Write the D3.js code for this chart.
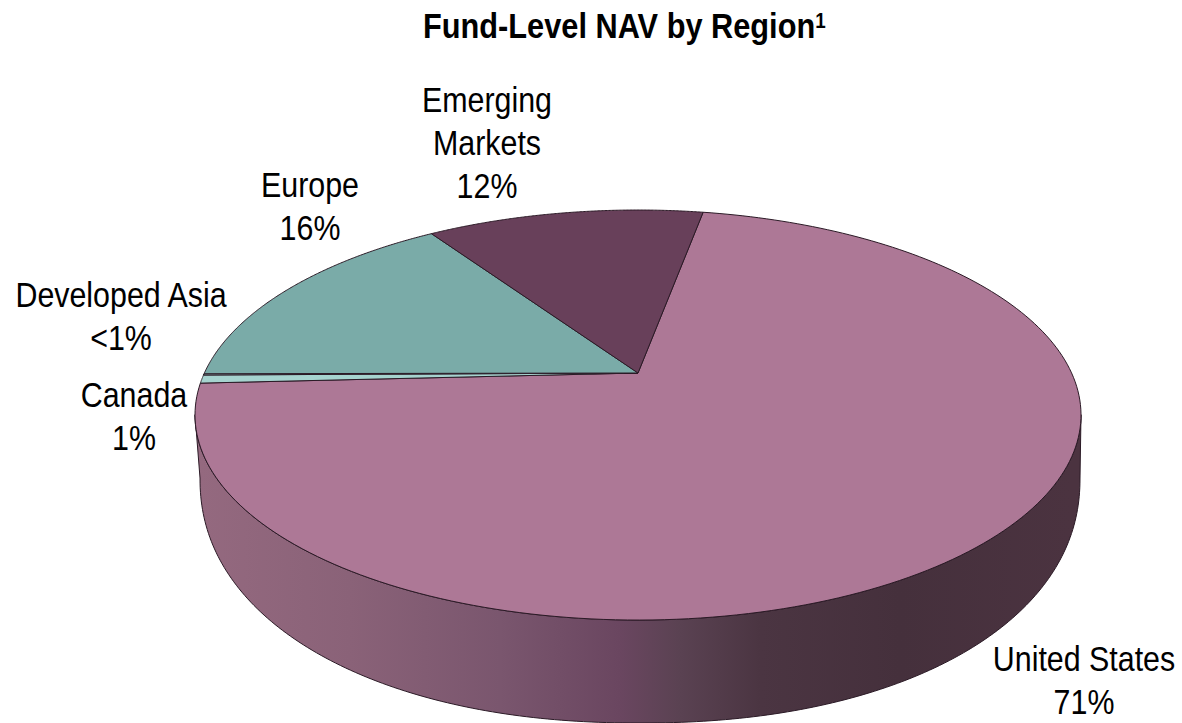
<!DOCTYPE html>
<html>
<head>
<meta charset="utf-8">
<script src="https://cdn.jsdelivr.net/npm/d3@7"></script>
<style>
  html, body { margin: 0; padding: 0; background: #fff; }
  text { font-family: "Liberation Sans", Arial, sans-serif; fill: #000; }
</style>
</head>
<body>
<div id="myDiv"></div>
<script>
//--------------------------------------------------
// Data
//--------------------------------------------------
var regions = ['United States', 'Canada', 'Developed Asia', 'Europe', 'Emerging Markets'];
var shares = [71.3, 0.65, 0.1, 15.65, 12.3];
var shareLabels = ['71%', '1%', '<1%', '16%', '12%'];
var chartTitle = 'Fund-Level NAV by Region';
var titleNote = '1';

//--------------------------------------------------
// Properties
//--------------------------------------------------
var sliceColors = ['#ad7896', '#a6d3cf', '#a6d3cf', '#7aaba8', '#68405a'];
var lineColor = '#2b1a26';
var startDegrees = 10.4;
var labelFontSize = 35.5;
var labelSquash = 0.856; // the type in the source is narrower than the font
var labelLeading = 43;
var titleFontSize = 36;
var titleSquash = 0.854;

// label placement, by region: centre x and first baseline
var labelLines = {
  'United States': {x: 1084, y: 671, lines: ['United States']},
  'Canada': {x: 134, y: 407, lines: ['Canada']},
  'Developed Asia': {x: 121, y: 307, lines: ['Developed Asia']},
  'Europe': {x: 310, y: 197, lines: ['Europe']},
  'Emerging Markets': {x: 487, y: 112, lines: ['Emerging', 'Markets']}
};

var width = 1182, height = 723;

var svg = d3.select('#myDiv')
  .append('svg')
    .attr('width', width)
    .attr('height', height)
    .style('display', 'block');

// side wall shading runs left to right
var wallX = d3.scaleLinear().domain([196, 1082]).range([0, 1]);
var grad = svg.append('defs').append('linearGradient')
  .attr('id', 'wall')
  .attr('gradientUnits', 'userSpaceOnUse')
  .attr('x1', 196).attr('x2', 1082).attr('y1', 0).attr('y2', 0);
[[200, '#94697f'], [350, '#8a6278'], [500, '#7a566e'], [620, '#6a4660'],
 [680, '#5a4252'], [760, '#4b3542'], [900, '#45303c'], [1070, '#4b3340']].forEach(function(s) {
  grad.append('stop').attr('offset', wallX(s[0])).attr('stop-color', s[1]);
});

//--------------------------------------------------
// Projection of the flat pie to the tilted disc.
// Perspective moves the pie centre above the centre of the ellipse.
//--------------------------------------------------
var apex = {x: 638, y: 373};
var persp = 0.205, scaleX = 433.6, scaleY = 196.4;

function project(angle, r) {
  var px = r * Math.sin(angle), py = -r * Math.cos(angle);
  var w = 1 - persp * py;
  return [apex.x + scaleX * px / w, apex.y + scaleY * py / w];
}

// bottom rim of the wall, a little fuller than an ellipse
var base = {cx: 640, cy: 478, rx: 440, ry: 245, n: 2.15};
function baseRim(angle) {
  var s = Math.sin(angle), c = Math.cos(angle);
  return [
    base.cx + base.rx * Math.sign(s) * Math.pow(Math.abs(s), 2 / base.n),
    base.cy - base.ry * Math.sign(c) * Math.pow(Math.abs(c), 2 / base.n)
  ];
}

var line = d3.line();

function arcPoints(a0, a1, fn) {
  return d3.range(0, 201).map(function(i) {
    return fn(a0 + (a1 - a0) * i / 200);
  });
}

var tau = Math.PI * 2;
var rimAt = function(a) { return project(a, 1); };

// the wall: top rim from right tangent round the front, then back on the base
var rightA = Math.PI / 2 + 0.205, leftA = tau - Math.PI / 2 - 0.205;
var wall = arcPoints(rightA, leftA, rimAt)
  .concat(arcPoints(Math.PI * 1.5, Math.PI * 0.5, baseRim));

svg.append('path')
  .attr('d', line(wall) + 'Z')
  .attr('fill', 'url(#wall)')
  .attr('stroke', lineColor)
  .attr('stroke-width', 1);

// the slices
var pie = d3.pie()
  .sort(null)
  .startAngle(startDegrees * Math.PI / 180)
  .endAngle(startDegrees * Math.PI / 180 + tau);

var arcs = pie(shares);

svg.append('g').selectAll('path')
  .data(arcs)
  .enter().append('path')
    .attr('d', function(d) {
      var pts = [[apex.x, apex.y]].concat(arcPoints(d.startAngle, d.endAngle, rimAt));
      return line(pts) + 'Z';
    })
    .attr('fill', function(d, i) { return sliceColors[i]; })
    .attr('stroke', lineColor)
    .attr('stroke-width', 1)
    .attr('stroke-linejoin', 'round');

// labels
var labels = svg.append('g').selectAll('text')
  .data(regions)
  .enter().append('text')
    .attr('text-anchor', 'middle')
    .attr('font-size', labelFontSize)
    .attr('transform', function(d) {
      var spec = labelLines[d];
      return 'translate(' + spec.x + ',' + spec.y + ') scale(' + labelSquash + ',1)';
    });

labels.each(function(name, i) {
  var rows = labelLines[name].lines.concat([shareLabels[i]]);
  d3.select(this).selectAll('tspan')
    .data(rows)
    .enter().append('tspan')
      .attr('x', 0)
      .attr('y', function(d, j) { return j * labelLeading; })
      .text(function(d) { return d; });
});

// title
var title = svg.append('text')
  .attr('transform', 'translate(423,38) scale(' + titleSquash + ',1)')
  .attr('font-size', titleFontSize)
  .attr('font-weight', 'bold')
  .text(chartTitle);
title.append('tspan')
  .attr('font-size', 22)
  .attr('dy', -10)
  .text(titleNote);
</script>
</body>
</html>
